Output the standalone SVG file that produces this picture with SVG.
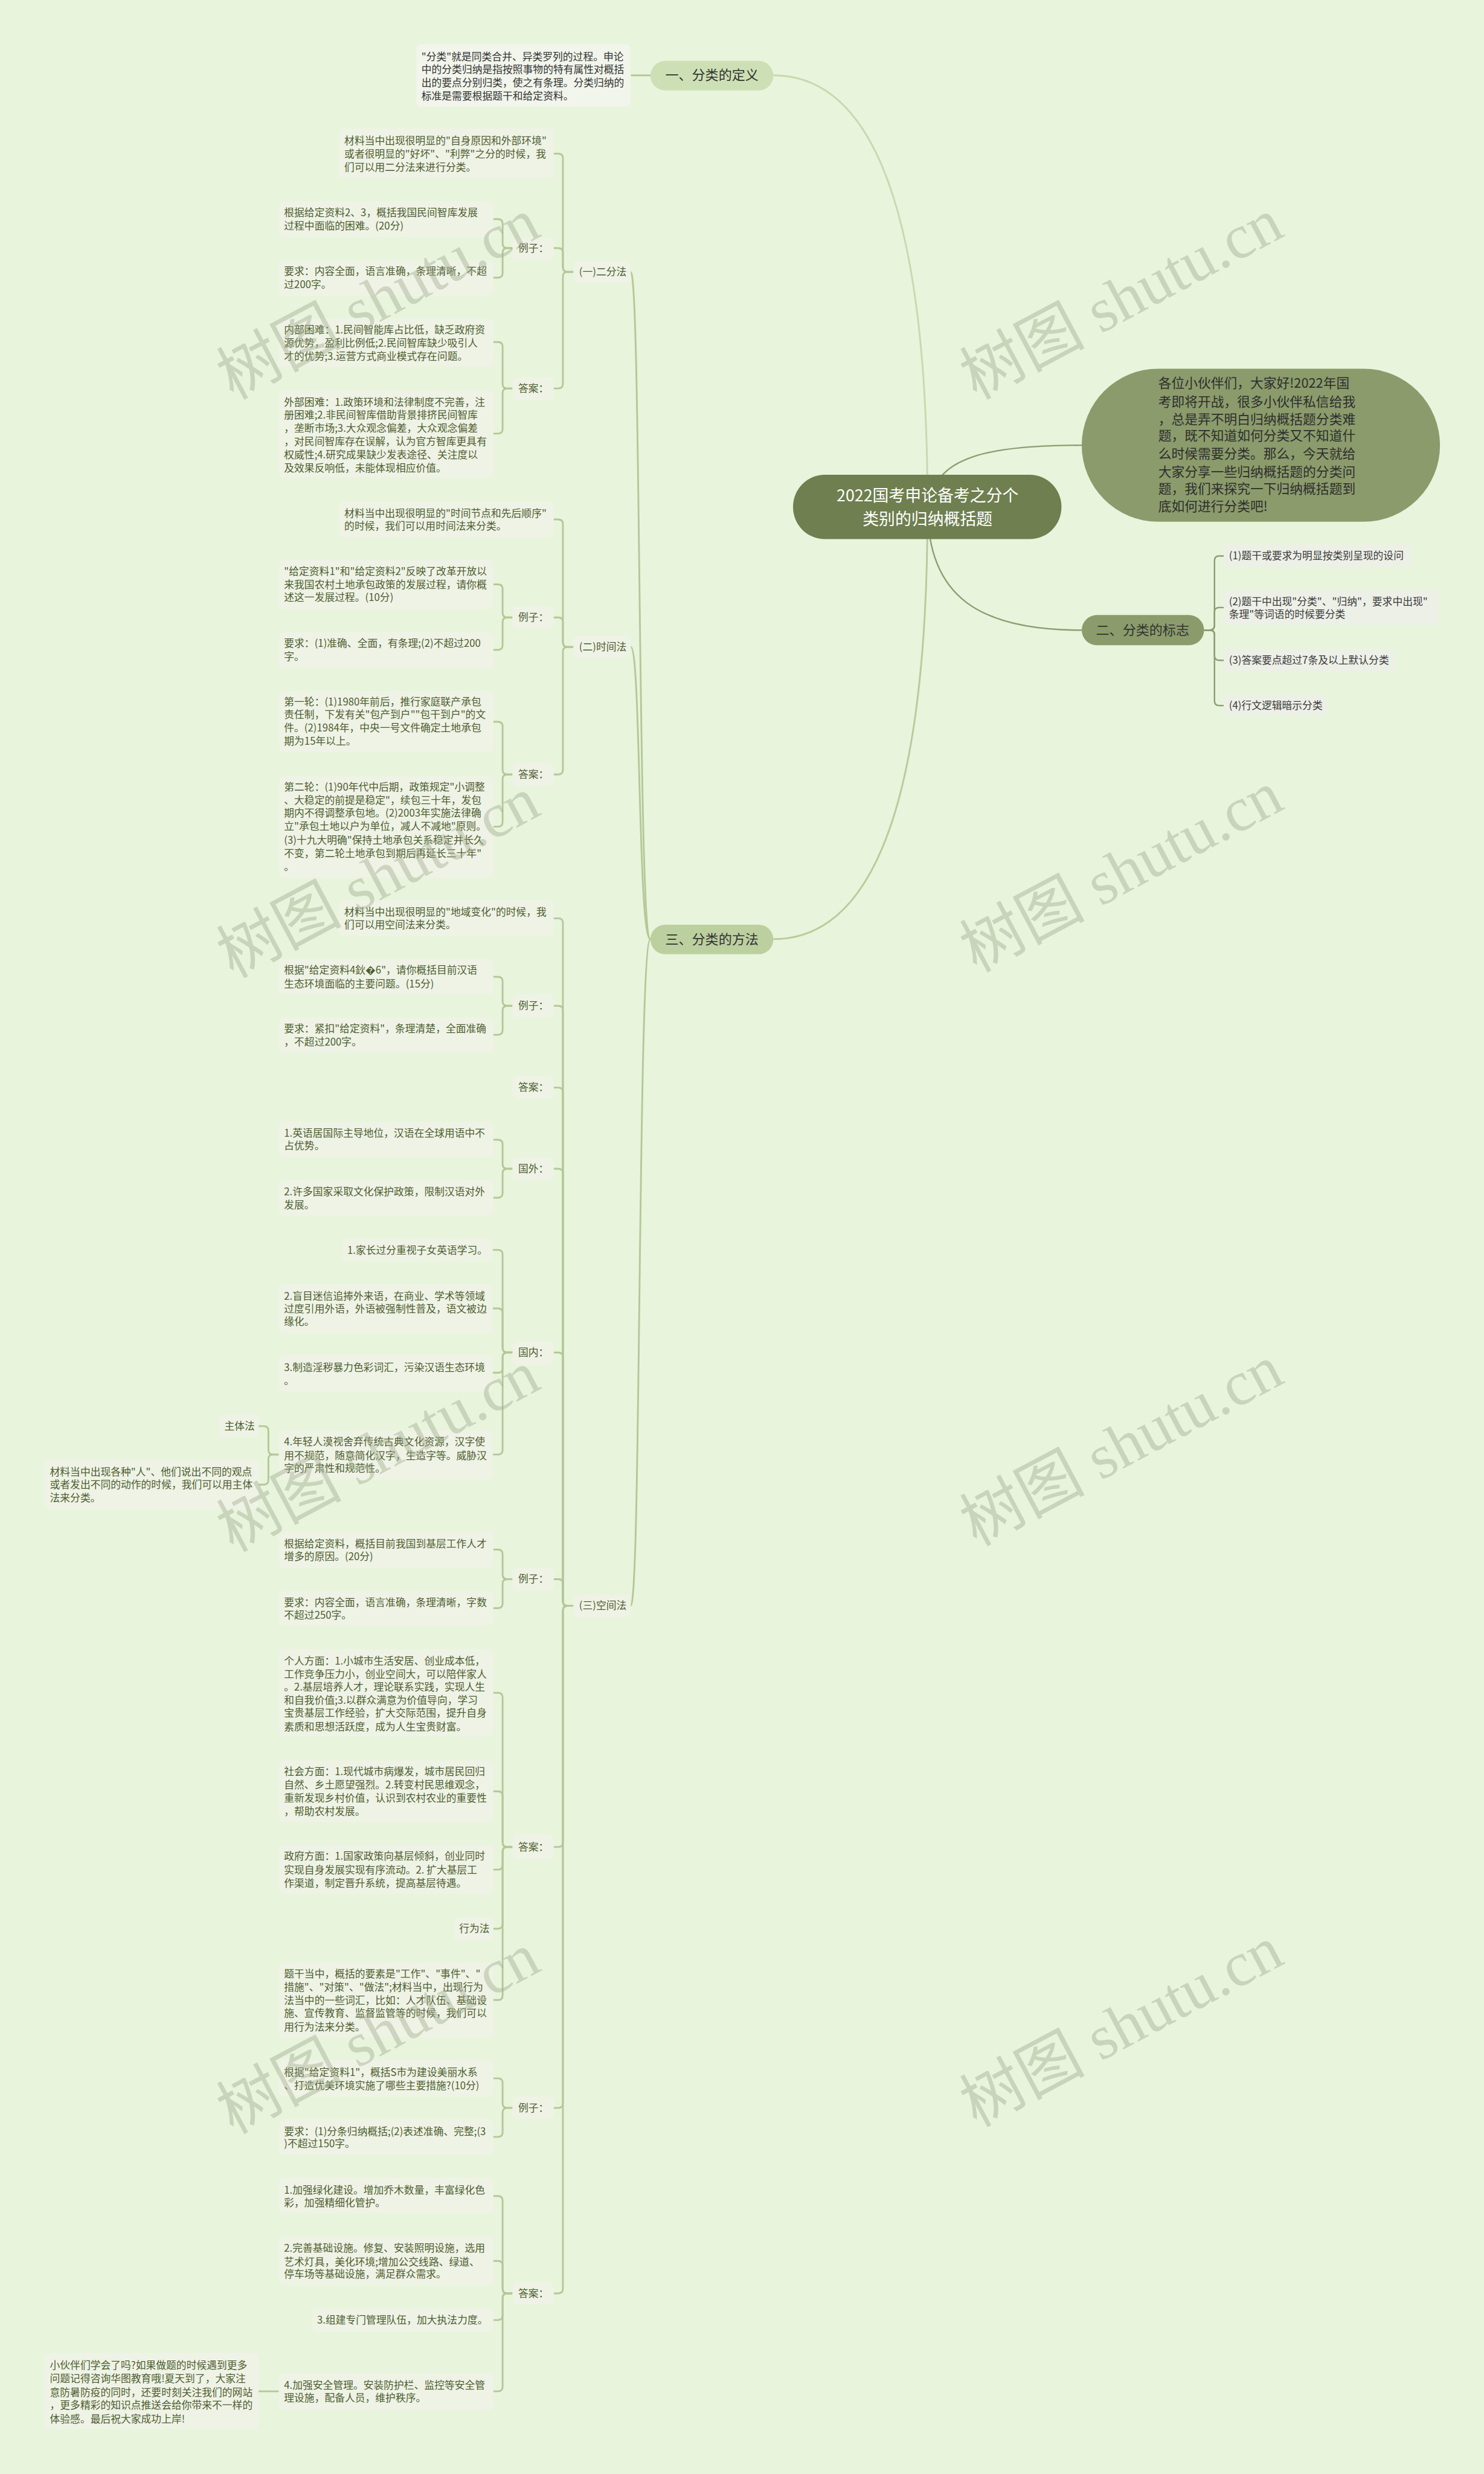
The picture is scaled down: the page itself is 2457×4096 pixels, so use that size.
<svg xmlns="http://www.w3.org/2000/svg" width="2457" height="4096" viewBox="0 0 2457 4096">
<defs><style>
.t{font-family:"Noto Sans CJK SC","Noto Sans",sans-serif;font-size:17.5px;fill:#4e5d2f}
.d{fill:#333}
.s{fill:#3a3a3a}
.b{fill:#eef3e6}
.bs{fill:#edf0e7}
.p{font-family:"Noto Sans CJK SC","Noto Sans",sans-serif;font-size:23px;fill:#333;text-anchor:middle}
.c{fill:none;stroke:#b4c897;stroke-width:3}
.cr{fill:none;stroke:#8e9d70;stroke-width:2.5}
.wm{font-family:"Liberation Serif","Noto Sans CJK SC",serif;font-size:108px;fill:#a3af90;fill-opacity:.45;text-anchor:middle}
</style></defs>
<rect width="2457" height="4096" fill="#e8f4dc"/>
<g transform="scale(0.9598)">
<g id="connectors">
<path d="M1334,130 C1480,130 1600,300 1600,875" fill="none" stroke="#c8d9ae" stroke-width="3"/>
<path d="M1334,1620 C1480,1620 1600,1450 1600,875" fill="none" stroke="#b8cb99" stroke-width="3"/>
<path class="cr" d="M1605,860 C1620,790 1700,768 1866,768"/>
<path class="cr" d="M1600,875 C1600,1030 1690,1087 1866,1087"/>
<path class="c" d="M1122,130 H1088"/>
<path class="cr" d="M2077,1087 H2087 Q2095,1087 2095,1079 V967 Q2095,959 2103,959 H2111"/>
<path class="cr" d="M2077,1087 H2087 Q2095,1087 2095,1079 V1056 Q2095,1048 2103,1048 H2111"/>
<path class="cr" d="M2077,1087 H2087 Q2095,1087 2095,1095 V1131 Q2095,1139 2103,1139 H2111"/>
<path class="cr" d="M2077,1087 H2087 Q2095,1087 2095,1095 V1209 Q2095,1217 2103,1217 H2111"/>
<path class="c" d="M1122,1620 C1100,1620 1106,469 1088,469"/>
<path class="c" d="M1122,1620 C1100,1620 1106,1116 1088,1116"/>
<path class="c" d="M1122,1620 C1100,1620 1106,2770 1088,2770"/>
<path class="c" d="M989,469 H979 Q971,469 971,461 V273 Q971,265 963,265 H955"/>
<path class="c" d="M989,469 H979 Q971,469 971,461 V436 Q971,428 963,428 H955"/>
<path class="c" d="M989,469 H979 Q971,469 971,477 V662 Q971,670 963,670 H955"/>
<path class="c" d="M884,428 H875 Q867,428 867,420 V386 Q867,378 859,378 H851"/>
<path class="c" d="M884,428 H875 Q867,428 867,436 V471 Q867,479 859,479 H851"/>
<path class="c" d="M884,670 H875 Q867,670 867,662 V598 Q867,590 859,590 H851"/>
<path class="c" d="M884,670 H875 Q867,670 867,678 V740 Q867,748 859,748 H851"/>
<path class="c" d="M989,1116 H979 Q971,1116 971,1108 V904 Q971,896 963,896 H955"/>
<path class="c" d="M989,1116 H979 Q971,1116 971,1108 V1073 Q971,1065 963,1065 H955"/>
<path class="c" d="M989,1116 H979 Q971,1116 971,1124 V1328 Q971,1336 963,1336 H955"/>
<path class="c" d="M884,1065 H875 Q867,1065 867,1057 V1016 Q867,1008 859,1008 H851"/>
<path class="c" d="M884,1065 H875 Q867,1065 867,1073 V1113 Q867,1121 859,1121 H851"/>
<path class="c" d="M884,1336 H875 Q867,1336 867,1328 V1253 Q867,1245 859,1245 H851"/>
<path class="c" d="M884,1336 H875 Q867,1336 867,1344 V1418 Q867,1426 859,1426 H851"/>
<path class="c" d="M989,2770 H979 Q971,2770 971,2762 V1592 Q971,1584 963,1584 H955"/>
<path class="c" d="M989,2770 H979 Q971,2770 971,2762 V1743 Q971,1735 963,1735 H955"/>
<path class="c" d="M989,2770 H979 Q971,2770 971,2762 V1884 Q971,1876 963,1876 H955"/>
<path class="c" d="M989,2770 H979 Q971,2770 971,2762 V2024 Q971,2016 963,2016 H955"/>
<path class="c" d="M989,2770 H979 Q971,2770 971,2762 V2341 Q971,2333 963,2333 H955"/>
<path class="c" d="M989,2770 H979 Q971,2770 971,2762 V2732 Q971,2724 963,2724 H955"/>
<path class="c" d="M989,2770 H979 Q971,2770 971,2778 V3178 Q971,3186 963,3186 H955"/>
<path class="c" d="M989,2770 H979 Q971,2770 971,2778 V3628 Q971,3636 963,3636 H955"/>
<path class="c" d="M989,2770 H979 Q971,2770 971,2778 V3948 Q971,3956 963,3956 H955"/>
<path class="c" d="M884,1735 H875 Q867,1735 867,1727 V1693 Q867,1685 859,1685 H851"/>
<path class="c" d="M884,1735 H875 Q867,1735 867,1743 V1777 Q867,1785 859,1785 H851"/>
<path class="c" d="M884,2016 H875 Q867,2016 867,2008 V1974 Q867,1966 859,1966 H851"/>
<path class="c" d="M884,2016 H875 Q867,2016 867,2024 V2058 Q867,2066 859,2066 H851"/>
<path class="c" d="M884,2333 H875 Q867,2333 867,2325 V2164 Q867,2156 859,2156 H850"/>
<path class="c" d="M884,2333 H875 Q867,2333 867,2325 V2265 Q867,2257 859,2257 H850"/>
<path class="c" d="M884,2333 H875 Q867,2333 867,2341 V2360 Q867,2368 859,2368 H850"/>
<path class="c" d="M884,2333 H875 Q867,2333 867,2341 V2501 Q867,2509 859,2509 H850"/>
<path class="c" d="M481,2509 H471 Q463,2509 463,2501 V2468 Q463,2460 455,2460 H446"/>
<path class="c" d="M481,2509 H471 Q463,2509 463,2517 V2553 Q463,2561 455,2561 H446"/>
<path class="c" d="M884,2724 H875 Q867,2724 867,2716 V2681 Q867,2673 859,2673 H851"/>
<path class="c" d="M884,2724 H875 Q867,2724 867,2732 V2766 Q867,2774 859,2774 H851"/>
<path class="c" d="M884,3186 H875 Q867,3186 867,3178 V2928 Q867,2920 859,2920 H851"/>
<path class="c" d="M884,3186 H875 Q867,3186 867,3178 V3098 Q867,3090 859,3090 H851"/>
<path class="c" d="M884,3186 H875 Q867,3186 867,3194 V3217 Q867,3225 859,3225 H851"/>
<path class="c" d="M884,3186 H875 Q867,3186 867,3194 V3319 Q867,3327 859,3327 H851"/>
<path class="c" d="M884,3186 H875 Q867,3186 867,3194 V3442 Q867,3450 859,3450 H851"/>
<path class="c" d="M884,3636 H875 Q867,3636 867,3628 V3593 Q867,3585 859,3585 H851"/>
<path class="c" d="M884,3636 H875 Q867,3636 867,3644 V3678 Q867,3686 859,3686 H851"/>
<path class="c" d="M884,3956 H875 Q867,3956 867,3948 V3796 Q867,3788 859,3788 H851"/>
<path class="c" d="M884,3956 H875 Q867,3956 867,3948 V3908 Q867,3900 859,3900 H851"/>
<path class="c" d="M884,3956 H875 Q867,3956 867,3964 V3994 Q867,4002 859,4002 H851"/>
<path class="c" d="M884,3956 H875 Q867,3956 867,3964 V4117 Q867,4125 859,4125 H851"/>
<path class="c" d="M481,4125 H446"/>
</g>

<g id="root"><rect x="1368" y="819" width="463" height="111" rx="55" fill="#6f7f4f"/>
<text font-family="Noto Sans CJK SC,sans-serif" font-size="28" fill="#fff" text-anchor="middle"><tspan x="1600" y="865">2022国考申论备考之分个</tspan><tspan x="1600" y="905">类别的归纳概括题</tspan></text></g>

<g id="intro"><rect x="1866" y="636" width="618" height="264" rx="132" fill="#8b9b6b"/>
<text font-family="Noto Sans CJK SC,sans-serif" font-size="22.7" fill="#2e2e2e"><tspan x="1998" y="669">各位小伙伴们，大家好!2022年国</tspan><tspan x="1998" y="701">考即将开战，很多小伙伴私信给我</tspan><tspan x="1998" y="731">，总是弄不明白归纳概括题分类难</tspan><tspan x="1998" y="760">题，既不知道如何分类又不知道什</tspan><tspan x="1998" y="791">么时候需要分类。那么，今天就给</tspan><tspan x="1998" y="822">大家分享一些归纳概括题的分类问</tspan><tspan x="1998" y="851">题，我们来探究一下归纳概括题到</tspan><tspan x="1998" y="881">底如何进行分类吧!</tspan></text></g>

<g id="sign"><rect x="1866" y="1061" width="211" height="52" rx="26" fill="#8b9b6b"/><text class="p" x="1971" y="1095">二、分类的标志</text></g>
<g id="sign1"><rect class="bs" x="2111" y="940" width="322" height="38" rx="8"/><text class="t s" x="2120" y="965">(1)题干或要求为明显按类别呈现的设问</text></g>
<g id="sign2"><rect class="bs" x="2111" y="1017" width="370" height="61" rx="8"/><text class="t s"><tspan x="2120" y="1044">(2)题干中出现"分类"、"归纳"，要求中出现"</tspan><tspan x="2120" y="1066">条理"等词语的时候要分类</tspan></text></g>
<g id="sign3"><rect class="bs" x="2111" y="1120" width="295" height="38" rx="8"/><text class="t s" x="2120" y="1145">(3)答案要点超过7条及以上默认分类</text></g>
<g id="sign4"><rect class="bs" x="2111" y="1199" width="178" height="36" rx="8"/><text class="t s" x="2120" y="1223">(4)行文逻辑暗示分类</text></g>

<g id="def"><rect x="1122" y="105" width="212" height="51" rx="25.5" fill="#cde0b5"/><text class="p" x="1228" y="138">一、分类的定义</text></g>
<g id="def-text"><rect x="718" y="76" width="370" height="108" rx="8" fill="#f1f5eb"/><text class="t d"><tspan x="727" y="104">"分类"就是同类合并、异类罗列的过程。申论</tspan><tspan x="727" y="126">中的分类归纳是指按照事物的特有属性对概括</tspan><tspan x="727" y="149">出的要点分别归类，使之有条理。分类归纳的</tspan><tspan x="727" y="172">标准是需要根据题干和给定资料。</tspan></text></g>

<g id="method"><rect x="1122" y="1595" width="212" height="51" rx="25.5" fill="#bccf9f"/><text class="p" x="1228" y="1628">三、分类的方法</text></g>

<g id="m1"><rect class="b" x="989" y="450" width="99" height="38" rx="8"/><text class="t" x="999" y="475">(一)二分法</text></g>
<g id="m1a"><rect class="b" x="584" y="222" width="371" height="85" rx="8"/><text class="t"><tspan x="594" y="249">材料当中出现很明显的"自身原因和外部环境"</tspan><tspan x="594" y="272">或者很明显的"好坏"、"利弊"之分的时候，我</tspan><tspan x="594" y="295">们可以用二分法来进行分类。</tspan></text></g>
<g id="m1b"><rect class="b" x="884" y="409" width="71" height="39" rx="8"/><text class="t" x="894" y="434">例子：</text></g>
<g id="m1c"><rect class="b" x="884" y="651" width="71" height="39" rx="8"/><text class="t" x="894" y="676">答案：</text></g>
<g id="m1b1"><rect class="b" x="481" y="347" width="370" height="62" rx="8"/><text class="t"><tspan x="490" y="373">根据给定资料2、3，概括我国民间智库发展</tspan><tspan x="490" y="396">过程中面临的困难。(20分)</tspan></text></g>
<g id="m1b2"><rect class="b" x="481" y="449" width="370" height="61" rx="8"/><text class="t"><tspan x="490" y="474">要求：内容全面，语言准确，条理清晰，不超</tspan><tspan x="490" y="497">过200字。</tspan></text></g>
<g id="m1c1"><rect class="b" x="481" y="549" width="370" height="83" rx="8"/><text class="t"><tspan x="490" y="575">内部困难：1.民间智能库占比低，缺乏政府资</tspan><tspan x="490" y="598">源优势，盈利比例低;2.民间智库缺少吸引人</tspan><tspan x="490" y="621">才的优势;3.运营方式商业模式存在问题。</tspan></text></g>
<g id="m1c2"><rect class="b" x="481" y="673" width="370" height="151" rx="8"/><text class="t"><tspan x="490" y="700">外部困难：1.政策环境和法律制度不完善，注</tspan><tspan x="490" y="722">册困难;2.非民间智库借助背景排挤民间智库</tspan><tspan x="490" y="745">，垄断市场;3.大众观念偏差，大众观念偏差</tspan><tspan x="490" y="768">，对民间智库存在误解，认为官方智库更具有</tspan><tspan x="490" y="791">权威性;4.研究成果缺少发表途径、关注度以</tspan><tspan x="490" y="814">及效果反响低，未能体现相应价值。</tspan></text></g>

<g id="m2"><rect class="b" x="989" y="1097" width="99" height="38" rx="8"/><text class="t" x="999" y="1122">(二)时间法</text></g>
<g id="m2a"><rect class="b" x="584" y="865" width="371" height="62" rx="8"/><text class="t"><tspan x="594" y="892">材料当中出现很明显的"时间节点和先后顺序"</tspan><tspan x="594" y="914">的时候，我们可以用时间法来分类。</tspan></text></g>
<g id="m2b"><rect class="b" x="884" y="1045" width="71" height="39" rx="8"/><text class="t" x="894" y="1071">例子：</text></g>
<g id="m2c"><rect class="b" x="884" y="1316" width="71" height="40" rx="8"/><text class="t" x="894" y="1342">答案：</text></g>
<g id="m2b1"><rect class="b" x="481" y="966" width="370" height="85" rx="8"/><text class="t"><tspan x="490" y="992">"给定资料1"和"给定资料2"反映了改革开放以</tspan><tspan x="490" y="1015">来我国农村土地承包政策的发展过程，请你概</tspan><tspan x="490" y="1037">述这一发展过程。(10分)</tspan></text></g>
<g id="m2b2"><rect class="b" x="481" y="1090" width="370" height="63" rx="8"/><text class="t"><tspan x="490" y="1116">要求：(1)准确、全面，有条理;(2)不超过200</tspan><tspan x="490" y="1139">字。</tspan></text></g>
<g id="m2c1"><rect class="b" x="481" y="1192" width="370" height="106" rx="8"/><text class="t"><tspan x="490" y="1217">第一轮：(1)1980年前后，推行家庭联产承包</tspan><tspan x="490" y="1239">责任制，下发有关"包产到户""包干到户"的文</tspan><tspan x="490" y="1262">件。(2)1984年，中央一号文件确定土地承包</tspan><tspan x="490" y="1285">期为15年以上。</tspan></text></g>
<g id="m2c2"><rect class="b" x="481" y="1339" width="370" height="175" rx="8"/><text class="t"><tspan x="490" y="1364">第二轮：(1)90年代中后期，政策规定"小调整</tspan><tspan x="490" y="1387">、大稳定的前提是稳定"，续包三十年，发包</tspan><tspan x="490" y="1409">期内不得调整承包地。(2)2003年实施法律确</tspan><tspan x="490" y="1432">立"承包土地以户为单位，减人不减地"原则。</tspan><tspan x="490" y="1455">(3)十九大明确"保持土地承包关系稳定并长久</tspan><tspan x="490" y="1478">不变，第二轮土地承包到期后再延长三十年"</tspan><tspan x="490" y="1501">。</tspan></text></g>

<g id="m3"><rect class="b" x="989" y="2751" width="99" height="39" rx="8"/><text class="t" x="999" y="2776">(三)空间法</text></g>
<g id="m3a"><rect class="b" x="584" y="1553" width="371" height="62" rx="8"/><text class="t"><tspan x="594" y="1579">材料当中出现很明显的"地域变化"的时候，我</tspan><tspan x="594" y="1601">们可以用空间法来分类。</tspan></text></g>
<g id="m3b"><rect class="b" x="884" y="1715" width="71" height="40" rx="8"/><text class="t" x="894" y="1741">例子：</text></g>
<g id="m3b1"><rect class="b" x="481" y="1654" width="370" height="61" rx="8"/><text class="t"><tspan x="490" y="1680">根据"给定资料4鈥�6"，请你概括目前汉语</tspan><tspan x="490" y="1703">生态环境面临的主要问题。(15分)</tspan></text></g>
<g id="m3b2"><rect class="b" x="481" y="1755" width="370" height="61" rx="8"/><text class="t"><tspan x="490" y="1781">要求：紧扣"给定资料"，条理清楚，全面准确</tspan><tspan x="490" y="1803">，不超过200字。</tspan></text></g>
<g id="m3c"><rect class="b" x="884" y="1856" width="71" height="39" rx="8"/><text class="t" x="894" y="1882">答案：</text></g>
<g id="m3d"><rect class="b" x="884" y="1996" width="71" height="40" rx="8"/><text class="t" x="894" y="2022">国外：</text></g>
<g id="m3d1"><rect class="b" x="481" y="1935" width="370" height="61" rx="8"/><text class="t"><tspan x="490" y="1961">1.英语居国际主导地位，汉语在全球用语中不</tspan><tspan x="490" y="1983">占优势。</tspan></text></g>
<g id="m3d2"><rect class="b" x="481" y="2036" width="370" height="61" rx="8"/><text class="t"><tspan x="490" y="2062">2.许多国家采取文化保护政策，限制汉语对外</tspan><tspan x="490" y="2085">发展。</tspan></text></g>
<g id="m3e"><rect class="b" x="884" y="2313" width="71" height="41" rx="8"/><text class="t" x="894" y="2339">国内：</text></g>
<g id="m3e1"><rect class="b" x="591" y="2136" width="259" height="40" rx="8"/><text class="t" x="599" y="2163">1.家长过分重视子女英语学习。</text></g>
<g id="m3e2"><rect class="b" x="481" y="2215" width="369" height="85" rx="8"/><text class="t"><tspan x="490" y="2242">2.盲目迷信追捧外来语，在商业、学术等领域</tspan><tspan x="490" y="2264">过度引用外语，外语被强制性普及，语文被边</tspan><tspan x="490" y="2286">缘化。</tspan></text></g>
<g id="m3e3"><rect class="b" x="481" y="2337" width="369" height="63" rx="8"/><text class="t"><tspan x="490" y="2365">3.制造淫秽暴力色彩词汇，污染汉语生态环境</tspan><tspan x="490" y="2388">。</tspan></text></g>
<g id="m3e4"><rect class="b" x="481" y="2467" width="369" height="85" rx="8"/><text class="t"><tspan x="490" y="2493">4.年轻人漠视舍弃传统古典文化资源，汉字使</tspan><tspan x="490" y="2517">用不规范，随意简化汉字，生造字等。威胁汉</tspan><tspan x="490" y="2539">字的严肃性和规范性。</tspan></text></g>
<g id="m3e4a"><rect class="b" x="377" y="2440" width="69" height="39" rx="8"/><text class="t" x="387" y="2466">主体法</text></g>
<g id="m3e4b"><rect class="b" x="77" y="2518" width="369" height="86" rx="8"/><text class="t"><tspan x="86" y="2545">材料当中出现各种"人"、他们说出不同的观点</tspan><tspan x="86" y="2567">或者发出不同的动作的时候，我们可以用主体</tspan><tspan x="86" y="2590">法来分类。</tspan></text></g>
<g id="m3f"><rect class="b" x="884" y="2705" width="71" height="39" rx="8"/><text class="t" x="894" y="2730">例子：</text></g>
<g id="m3f1"><rect class="b" x="481" y="2642" width="370" height="63" rx="8"/><text class="t"><tspan x="490" y="2669">根据给定资料，概括目前我国到基层工作人才</tspan><tspan x="490" y="2691">增多的原因。(20分)</tspan></text></g>
<g id="m3f2"><rect class="b" x="481" y="2744" width="370" height="60" rx="8"/><text class="t"><tspan x="490" y="2770">要求：内容全面，语言准确，条理清晰，字数</tspan><tspan x="490" y="2792">不超过250字。</tspan></text></g>
<g id="m3g"><rect class="b" x="884" y="3165" width="71" height="42" rx="8"/><text class="t" x="894" y="3192">答案：</text></g>
<g id="m3g1"><rect class="b" x="481" y="2845" width="370" height="151" rx="8"/><text class="t"><tspan x="490" y="2871">个人方面：1.小城市生活安居、创业成本低，</tspan><tspan x="490" y="2894">工作竞争压力小，创业空间大，可以陪伴家人</tspan><tspan x="490" y="2916">。2.基层培养人才，理论联系实践，实现人生</tspan><tspan x="490" y="2939">和自我价值;3.以群众满意为价值导向，学习</tspan><tspan x="490" y="2961">宝贵基层工作经验，扩大交际范围，提升自身</tspan><tspan x="490" y="2985">素质和思想活跃度，成为人生宝贵财富。</tspan></text></g>
<g id="m3g2"><rect class="b" x="481" y="3037" width="370" height="106" rx="8"/><text class="t"><tspan x="490" y="3062">社会方面：1.现代城市病爆发，城市居民回归</tspan><tspan x="490" y="3085">自然、乡土愿望强烈。2.转变村民思维观念，</tspan><tspan x="490" y="3108">重新发现乡村价值，认识到农村农业的重要性</tspan><tspan x="490" y="3131">，帮助农村发展。</tspan></text></g>
<g id="m3g3"><rect class="b" x="481" y="3183" width="370" height="84" rx="8"/><text class="t"><tspan x="490" y="3208">政府方面：1.国家政策向基层倾斜，创业同时</tspan><tspan x="490" y="3232">实现自身发展实现有序流动。2. 扩大基层工</tspan><tspan x="490" y="3255">作渠道，制定晋升系统，提高基层待遇。</tspan></text></g>
<g id="m3g4"><rect class="b" x="783" y="3307" width="68" height="40" rx="8"/><text class="t" x="792" y="3333">行为法</text></g>
<g id="m3g5"><rect class="b" x="481" y="3385" width="370" height="130" rx="8"/><text class="t"><tspan x="490" y="3411">题干当中，概括的要素是"工作"、"事件"、"</tspan><tspan x="490" y="3434">措施"、"对策"、"做法";材料当中，出现行为</tspan><tspan x="490" y="3457">法当中的一些词汇，比如：人才队伍、基础设</tspan><tspan x="490" y="3479">施、宣传教育、监督监管等的时候，我们可以</tspan><tspan x="490" y="3503">用行为法来分类。</tspan></text></g>
<g id="m3h"><rect class="b" x="884" y="3617" width="71" height="38" rx="8"/><text class="t" x="894" y="3642">例子：</text></g>
<g id="m3h1"><rect class="b" x="481" y="3553" width="370" height="64" rx="8"/><text class="t"><tspan x="490" y="3581">根据"给定资料1"，概括S市为建设美丽水系</tspan><tspan x="490" y="3604">、打造优美环境实施了哪些主要措施?(10分)</tspan></text></g>
<g id="m3h2"><rect class="b" x="481" y="3655" width="370" height="62" rx="8"/><text class="t"><tspan x="490" y="3683">要求：(1)分条归纳概括;(2)表述准确、完整;(3</tspan><tspan x="490" y="3704">)不超过150字。</tspan></text></g>
<g id="m3i"><rect class="b" x="884" y="3937" width="71" height="38" rx="8"/><text class="t" x="894" y="3962">答案：</text></g>
<g id="m3i1"><rect class="b" x="481" y="3757" width="370" height="61" rx="8"/><text class="t"><tspan x="490" y="3784">1.加强绿化建设。增加乔木数量，丰富绿化色</tspan><tspan x="490" y="3806">彩，加强精细化管护。</tspan></text></g>
<g id="m3i2"><rect class="b" x="481" y="3858" width="370" height="84" rx="8"/><text class="t"><tspan x="490" y="3884">2.完善基础设施。修复、安装照明设施，选用</tspan><tspan x="490" y="3908">艺术灯具，美化环境;增加公交线路、绿道、</tspan><tspan x="490" y="3929">停车场等基础设施，满足群众需求。</tspan></text></g>
<g id="m3i3"><rect class="b" x="538" y="3982" width="313" height="40" rx="8"/><text class="t" x="547" y="4008">3.组建专门管理队伍，加大执法力度。</text></g>
<g id="m3i4"><rect class="b" x="481" y="4093" width="370" height="64" rx="8"/><text class="t"><tspan x="490" y="4121">4.加强安全管理。安装防护栏、监控等安全管</tspan><tspan x="490" y="4143">理设施，配备人员，维护秩序。</tspan></text></g>
<g id="m3i4a"><rect class="b" x="77" y="4059" width="369" height="131" rx="8"/><text class="t"><tspan x="86" y="4086">小伙伴们学会了吗?如果做题的时候遇到更多</tspan><tspan x="86" y="4109">问题记得咨询华图教育哦!夏天到了，大家注</tspan><tspan x="86" y="4133">意防暑防疫的同时，还要时刻关注我们的网站</tspan><tspan x="86" y="4155">，更多精彩的知识点推送会给你带来不一样的</tspan><tspan x="86" y="4179">体验感。最后祝大家成功上岸!</tspan></text></g>

<g id="watermarks">
<text class="wm" transform="translate(653,517) rotate(-28)" y="35">树图 shutu.cn</text>
<text class="wm" transform="translate(1935,517) rotate(-28)" y="35">树图 shutu.cn</text>
<text class="wm" transform="translate(653,1515) rotate(-28)" y="35">树图 shutu.cn</text>
<text class="wm" transform="translate(1935,1505) rotate(-28)" y="35">树图 shutu.cn</text>
<text class="wm" transform="translate(653,2505) rotate(-28)" y="35">树图 shutu.cn</text>
<text class="wm" transform="translate(1935,2495) rotate(-28)" y="35">树图 shutu.cn</text>
<text class="wm" transform="translate(653,3509) rotate(-28)" y="35">树图 shutu.cn</text>
<text class="wm" transform="translate(1935,3497) rotate(-28)" y="35">树图 shutu.cn</text>
</g>
</g>
</svg>
